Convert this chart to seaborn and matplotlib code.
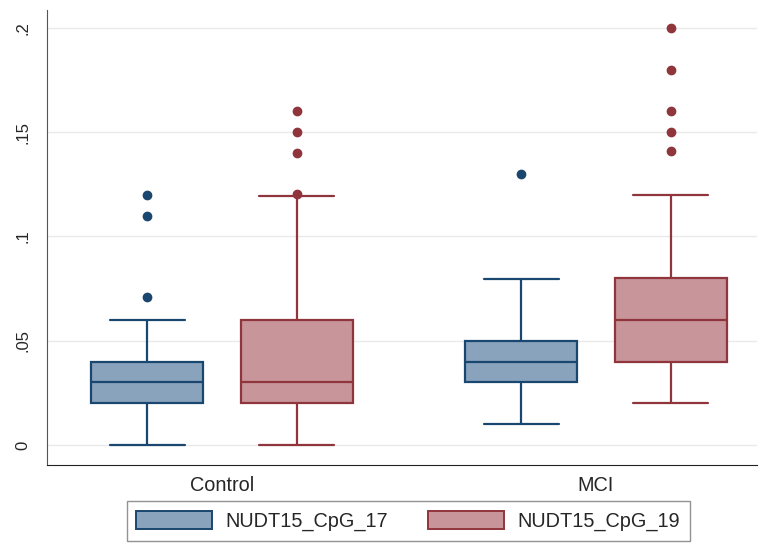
import matplotlib
matplotlib.use("Agg")
import matplotlib.pyplot as plt
import seaborn as sns
import numpy as np
import pandas as pd
from matplotlib.patches import Patch

# values (each list gives the box, whiskers and outliers)
groups = ["Control", "MCI"]
probes = ["NUDT15_CpG_17", "NUDT15_CpG_19"]

control_cpg17 = [0.00, 0.01, 0.01, 0.02, 0.02, 0.02, 0.03, 0.03, 0.03, 0.03,
                 0.04, 0.04, 0.04, 0.06, 0.071, 0.11, 0.12]
control_cpg19 = [0.00, 0.01, 0.01, 0.02, 0.02, 0.02, 0.02, 0.03, 0.03, 0.03,
                 0.03, 0.04, 0.05, 0.06, 0.06, 0.06, 0.1195, 0.1205, 0.14, 0.15, 0.16]
mci_cpg17 = [0.01, 0.02, 0.03, 0.03, 0.03, 0.04, 0.04, 0.04, 0.05, 0.05,
             0.06, 0.0795, 0.13]
mci_cpg19 = [0.02, 0.03, 0.03, 0.03, 0.04, 0.04, 0.04, 0.04, 0.04, 0.05,
             0.05, 0.05, 0.06, 0.06, 0.06, 0.06, 0.07, 0.07, 0.07, 0.08,
             0.08, 0.08, 0.10, 0.12, 0.141, 0.15, 0.16, 0.18, 0.20]

yticks = [0, 0.05, 0.1, 0.15, 0.2]
ytick_labels = ["0", ".05", ".1", ".15", ".2"]

fill_colors = ["#8aa3bd", "#c8959b"]
edge_colors = ["#1a476f", "#90353b"]

rows = []
for g, p, vals in [("Control", probes[0], control_cpg17), ("Control", probes[1], control_cpg19),
                   ("MCI", probes[0], mci_cpg17), ("MCI", probes[1], mci_cpg19)]:
    for v in vals:
        rows.append((g, p, v))
df = pd.DataFrame(rows, columns=["group", "probe", "value"])

sns.set_style("white")
plt.rcParams["font.family"] = ["Liberation Sans", "DejaVu Sans"]

fig = plt.figure(figsize=(7.59, 5.43), dpi=100)
ax = fig.add_axes([0.062, 0.1436, 0.935, 0.838])

sns.boxplot(data=df, x="group", y="value", hue="probe", order=groups,
            hue_order=probes, palette=fill_colors, saturation=1,
            linecolor="black", linewidth=1.6, width=0.8, gap=0.25,
            whis=1.5, legend=False, ax=ax,
            flierprops=dict(marker="o", markersize=6))

# colour each box's outline / whiskers / fliers by which side of the category it sits on
def side(x):
    return 0 if (x - np.round(x)) < 0 else 1

for patch in ax.patches:
    verts = patch.get_path().vertices
    cx = patch.get_transform().transform(verts)[:, 0]
    xd = ax.transData.inverted().transform(np.c_[cx, np.zeros_like(cx)])[:, 0]
    patch.set_edgecolor(edge_colors[side(xd.mean())])

cap_width = 0.2
for line in ax.lines:
    xd = np.asarray(line.get_xdata(), dtype=float)
    yd = np.asarray(line.get_ydata(), dtype=float)
    if xd.size == 0:
        continue
    c = edge_colors[side(xd.mean())]
    line.set_color(c)
    line.set_markerfacecolor(c)
    line.set_markeredgecolor(c)
    # widen the whisker caps (short horizontal segments)
    if xd.size == 2 and yd[0] == yd[1] and 0 < abs(xd[1] - xd[0]) < 0.25:
        m = xd.mean()
        line.set_xdata([m - cap_width / 2, m + cap_width / 2])

ax.set_xlim(-0.468, 1.43)
ax.set_ylim(-0.0096, 0.2086)
ax.set_yticks(yticks)
ax.set_yticklabels(ytick_labels, rotation=90, va="center", fontsize=12)
ax.tick_params(axis="y", direction="out", length=6, width=1, color="#555555", pad=6)
ax.tick_params(axis="x", length=0, labelsize=14.3, pad=8)
ax.grid(axis="y", color="#eaeaea", linewidth=1)
ax.set_axisbelow(True)
ax.set_xlabel("")
ax.set_ylabel("")
for s in ["top", "right"]:
    ax.spines[s].set_visible(False)
ax.spines["left"].set_color("#555555")
ax.spines["bottom"].set_color("#222222")

handles = [Patch(facecolor=fill_colors[i], edgecolor=edge_colors[i], linewidth=1.4, label=p)
           for i, p in enumerate(probes)]
fig.legend(handles=handles, loc="lower center", bbox_to_anchor=(0.538, 0.004), ncol=2,
           frameon=True, fancybox=False, edgecolor="#777777", fontsize=14.3,
           handlelength=3.8, handleheight=1.0, handletextpad=0.7, columnspacing=2.0,
           borderpad=0.5, borderaxespad=0)

fig.savefig("out.png", dpi=100)
